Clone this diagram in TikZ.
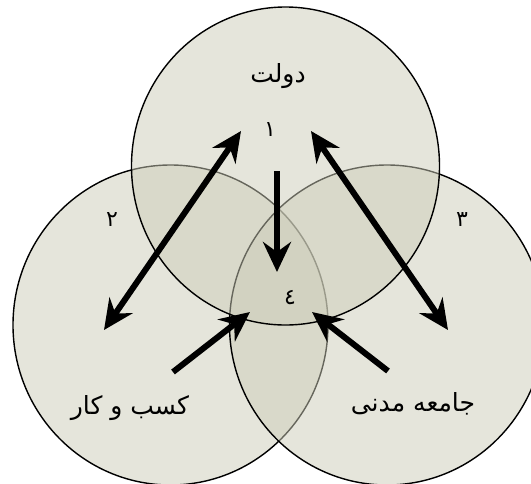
\documentclass[tikz,border=0pt]{standalone}
\usepackage{fontspec}
\usetikzlibrary{arrows.meta}
\TeXXeTstate=1
\newfontfamily\arabicfont[Script=Arabic]{DejaVu Sans}
\definecolor{vennfill}{RGB}{204,204,184}
\tikzset{
  venn/.style={fill=vennfill, fill opacity=0.5, draw=black, line width=1.4pt},
  bigarrow/.style={line width=6pt, -{Stealth[length=30pt,width=28pt,inset=10pt]}},
  bigdarrow/.style={line width=6pt, {Stealth[length=30pt,width=28pt,inset=10pt]}-{Stealth[length=30pt,width=28pt,inset=10pt]}},
  lbl/.style={font=\arabicfont\fontsize{25}{28}\selectfont, inner sep=0pt},
  num/.style={font=\arabicfont\fontsize{22}{24}\selectfont, inner sep=0pt}
}
\begin{document}
\begin{tikzpicture}[x=1pt,y=1pt]
\useasboundingbox (0,0) rectangle (531,-483);
\begin{scope}
\clip (0,0) rectangle (531,-483);
\path[venn] (170.5,-325) ellipse [x radius=157.5, y radius=160];
\path[venn] (387,-325) ellipse [x radius=157.5, y radius=160];
\path[venn] (285.5,-166) ellipse [x radius=154, y radius=159];
\end{scope}
\node[lbl] (dolat) at (278,-76) {\beginR دولت\endR};
\node[lbl] (kasb) at (130,-408) {\beginR کسب و کار\endR};
\node[lbl] (jameh) at (413,-404) {\beginR جامعه مدنی\endR};
\node[num] (n1) at (270,-130) {١};
\node[num] (n2) at (112,-220) {٢};
\node[num] (n3) at (462,-220) {٣};
\node[num] (n4) at (290,-298) {٤};
\coordinate (lA) at (104,-330);
\coordinate (lB) at (241,-131);
\coordinate (rA) at (311,-131);
\coordinate (rB) at (448,-330);
\coordinate (dA) at (277,-171);
\coordinate (dB) at (277,-272);
\coordinate (blA) at (173,-372);
\coordinate (blB) at (250,-312);
\coordinate (brA) at (388,-371);
\coordinate (brB) at (312,-312);
\draw[bigdarrow] (lA) -- (lB);
\draw[bigdarrow] (rA) -- (rB);
\draw[bigarrow] (dA) -- (dB);
\draw[bigarrow] (blA) -- (blB);
\draw[bigarrow] (brA) -- (brB);
\end{tikzpicture}
\end{document}
